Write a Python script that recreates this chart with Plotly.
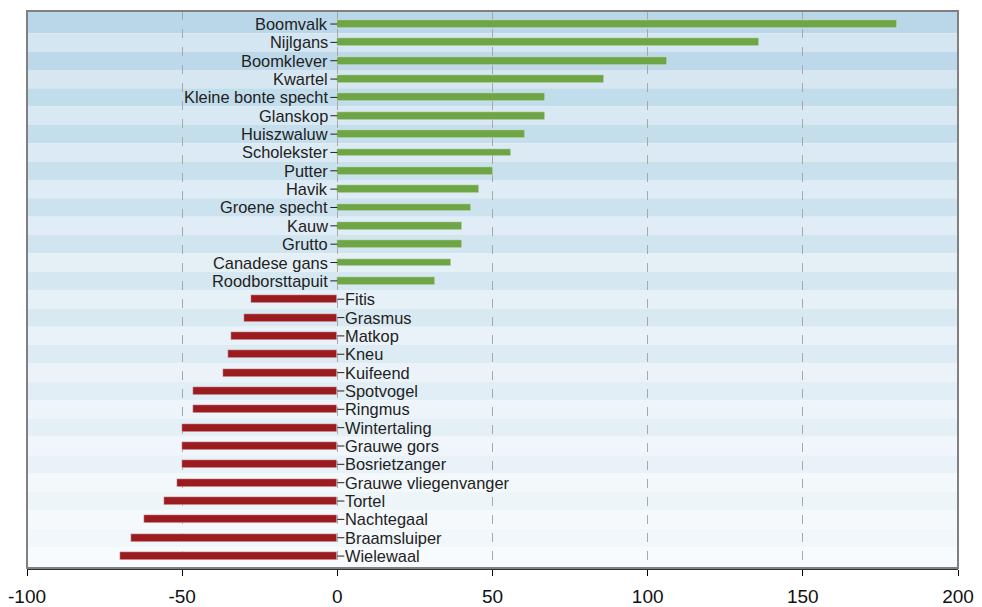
import plotly.graph_objects as go

### Soorten en trendwaarden ###

soorten_pos = ['Boomvalk', 'Nijlgans', 'Boomklever', 'Kwartel', 'Kleine bonte specht',
               'Glanskop', 'Huiszwaluw', 'Scholekster', 'Putter', 'Havik',
               'Groene specht', 'Kauw', 'Grutto', 'Canadese gans', 'Roodborsttapuit']
waarden_pos = [180.5, 136, 106.3, 86, 67, 67, 60.6, 56, 50.3, 45.8, 43.2, 40.3, 40.3, 36.7, 31.6]

soorten_neg = ['Fitis', 'Grasmus', 'Matkop', 'Kneu', 'Kuifeend', 'Spotvogel', 'Ringmus',
               'Wintertaling', 'Grauwe gors', 'Bosrietzanger', 'Grauwe vliegenvanger',
               'Tortel', 'Nachtegaal', 'Braamsluiper', 'Wielewaal']
waarden_neg = [-27.7, -30, -34.2, -35.1, -36.7, -46.4, -46.4, -50, -50, -50, -51.6,
               -55.9, -62.3, -66.4, -70]

x_ticks = [-100, -50, 0, 50, 100, 150, 200]
x_labels = ['-100', '-50', '0', '50', '100', '150', '200']

soorten = soorten_pos + soorten_neg
n = len(soorten)

# y-bereik: iets meer ruimte boven de eerste rij dan onder de laatste
y_boven = -0.71
y_onder = n - 1 + 0.65


def mix(c1, c2, t):
    ''' lineaire kleurovergang '''
    r = [round(a + (b - a) * t) for a, b in zip(c1, c2)]
    return 'rgb({},{},{})'.format(*r)


fig = go.Figure()

fig.add_trace(go.Bar(y=soorten_pos, x=waarden_pos, orientation='h',
                     marker_color='#6fa645', width=0.43, showlegend=False))
fig.add_trace(go.Bar(y=soorten_neg, x=waarden_neg, orientation='h',
                     marker_color='#9b1b1f', width=0.43, showlegend=False))

# Achtergrondbanden met verloop van blauw naar wit
shapes = []
for i in range(n):
    t = i / (n - 1)
    if i % 2 == 0:
        kleur = mix((185, 215, 232), (243, 248, 251), t)
    else:
        kleur = mix((211, 229, 241), (248, 251, 253), t)
    y0 = y_boven if i == 0 else i - 0.5
    y1 = y_onder if i == n - 1 else i + 0.5
    shapes.append(dict(type='rect', xref='paper', yref='y', layer='below',
                       x0=0, x1=1, y0=y0, y1=y1,
                       fillcolor=kleur, line_width=0))

# Kleine streepjes bij de nullijn
annotations = []
for s in soorten_pos:
    shapes.append(dict(type='line', xref='x', yref='y', xsizemode='pixel', xanchor=0,
                       x0=-7, x1=0, y0=s, y1=s, line=dict(color='#222', width=1)))
    annotations.append(dict(x=0, y=s, xref='x', yref='y', text=s, showarrow=False,
                            xanchor='right', xshift=-7, font=dict(size=16.4, color='#222')))
for s in soorten_neg:
    shapes.append(dict(type='line', xref='x', yref='y', xsizemode='pixel', xanchor=0,
                       x0=0, x1=7, y0=s, y1=s, line=dict(color='#222', width=1)))
    annotations.append(dict(x=0, y=s, xref='x', yref='y', text=s, showarrow=False,
                            xanchor='left', xshift=6, font=dict(size=16.4, color='#222')))

# Kader
shapes.append(dict(type='rect', xref='paper', yref='paper', x0=0, x1=1, y0=0, y1=1,
                   line=dict(color='#808080', width=2), layer='above'))

# de pagina heeft 8px marge rondom
fig.update_layout(
    width=974, height=599,
    margin=dict(l=19, r=24, t=3, b=39),
    paper_bgcolor='white', plot_bgcolor='white',
    font=dict(family='Liberation Sans, Arial, sans-serif', color='#111'),
    shapes=shapes, annotations=annotations,
    barmode='overlay',
    bargap=0,
)

fig.update_xaxes(range=[-100, 200], tickvals=x_ticks, ticktext=x_labels,
                 showgrid=True, griddash='dash',
                 gridcolor='#a8a8a8', gridwidth=1, zeroline=False,
                 showline=True, linecolor='#333', linewidth=2,
                 ticks='outside', ticklen=6, tickcolor='black',
                 ticklabelstandoff=4, ticklabeloverflow='allow',
                 tickfont=dict(size=19, color='#111'), automargin=False)
fig.update_yaxes(categoryorder='array', categoryarray=soorten, range=[y_onder, y_boven],
                 showticklabels=False, showgrid=False, zeroline=False, automargin=False)

fig.write_html("out.html")
